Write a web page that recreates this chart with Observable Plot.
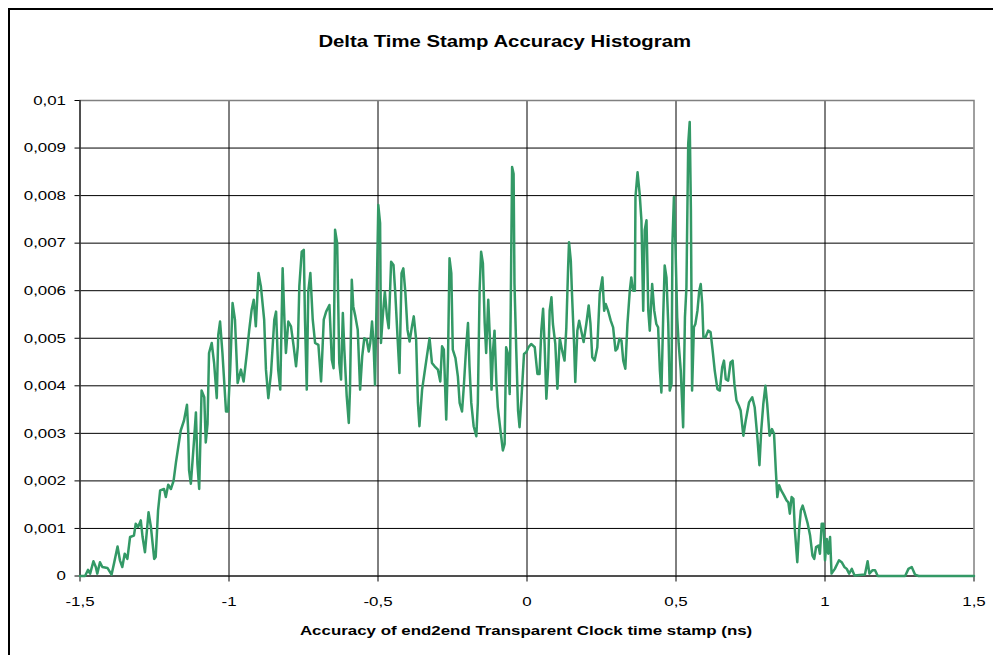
<!DOCTYPE html>
<html>
<head>
<meta charset="utf-8">
<script src="https://cdn.jsdelivr.net/npm/d3@7"></script>
<script src="https://cdn.jsdelivr.net/npm/@observablehq/plot@0.6"></script>
<style>
  body { margin: 0; background: #fff; }
  #wrap { position: relative; width: 993px; height: 655px; overflow: hidden; font-family: "Liberation Sans", Arial, sans-serif; background: #fff; }
  #frame { position: absolute; left: 8px; top: 8px; width: 1000px; height: 700px; border-left: 2px solid #000; border-top: 2px solid #000; }
  #chart { position: absolute; left: 0; top: 0; }
  #title { position: absolute; left: 0; width: 1010px; top: 34px; text-align: center; font-weight: bold; font-size: 16px; line-height: 16px; color: #000; }
  #xlabel { position: absolute; left: 0; width: 1053px; top: 624px; text-align: center; font-weight: bold; font-size: 13.3px; line-height: 14px; color: #000; }
  .stretch { display: inline-block; transform: scaleX(1.27); transform-origin: 50% 50%; white-space: nowrap; }
</style>
</head>
<body>
<div id="wrap">
  <div id="frame"></div>
  <div id="chart"></div>
  <div id="title"><span class="stretch">Delta Time Stamp Accuracy Histogram</span></div>
  <div id="xlabel"><span class="stretch">Accuracy of end2end Transparent Clock time stamp (ns)</span></div>
</div>
<script>
// Accuracy (ns)
const accuracyNs = [
  -1.500,-1.483,-1.473,-1.466,-1.455,-1.447,-1.442,-1.433,-1.425,-1.408,-1.394,-1.386,-1.374,-1.366,-1.358,-1.350,-1.341,-1.332,-1.319,-1.313,
  -1.305,-1.296,-1.290,-1.282,-1.270,-1.262,-1.251,-1.246,-1.238,-1.231,-1.218,-1.212,-1.204,-1.195,-1.186,-1.178,-1.162,-1.151,-1.141,-1.137,
  -1.134,-1.128,-1.117,-1.111,-1.106,-1.100,-1.092,-1.083,-1.078,-1.072,
  -1.067,-1.058,-1.050,-1.041,-1.036,-1.030,-1.022,-1.010,-1.003,-0.996,-0.988,-0.980,-0.971,-0.960,-0.951,-0.940,-0.932,-0.924,-0.917,-0.910,
  -0.901,-0.893,-0.882,-0.876,-0.868,-0.859,-0.848,-0.842,-0.835,-0.828,-0.820,-0.814,-0.809,-0.801,-0.792,-0.783,-0.775,-0.769,-0.764,-0.756,
  -0.749,-0.745,-0.739,-0.734,-0.727,-0.719,-0.711,-0.700,-0.691,-0.682,-0.674,-0.663,-0.655,-0.649,-0.644,-0.637,
  -0.630,-0.624,-0.618,-0.613,-0.605,-0.598,-0.594,-0.588,-0.583,-0.576,-0.568,-0.560,-0.553,-0.546,-0.538,-0.531,-0.526,-0.520,-0.515,-0.510,
  -0.504,-0.499,-0.493,-0.490,-0.484,-0.477,-0.470,-0.464,-0.456,-0.448,-0.442,-0.434,-0.428,-0.421,-0.415,-0.408,-0.401,-0.394,-0.386,-0.380,
  -0.372,-0.366,-0.361,-0.352,-0.344,-0.336,-0.327,-0.319,-0.310,-0.299,-0.291,-0.285,-0.279,-0.271,-0.265,-0.260,-0.254,-0.249,-0.240,-0.232,
  -0.226,-0.218,-0.212,-0.204,-0.198,-0.193,-0.187,-0.179,-0.170,-0.165,-0.159,-0.154,-0.148,-0.142,-0.137,-0.130,-0.123,-0.119,
  -0.114,-0.109,-0.103,-0.098,-0.089,-0.081,-0.075,-0.070,-0.064,-0.058,-0.055,-0.050,-0.045,-0.042,-0.036,-0.030,-0.025,-0.019,-0.010,-0.002,
  0.005,0.014,0.026,0.035,0.042,0.048,0.054,0.059,0.065,0.071,0.076,0.082,0.087,0.095,0.102,0.110,0.118,0.126,0.132,0.138,
  0.141,0.147,0.151,0.158,0.162,0.169,0.175,0.182,0.190,0.199,0.207,0.213,0.219,0.227,0.236,0.244,0.253,0.259,0.264,0.272,
  0.281,0.289,0.297,0.303,0.310,0.317,0.323,0.330,0.337,0.345,0.350,0.356,0.362,
  0.364,0.371,0.378,0.384,0.390,0.395,0.401,0.407,0.412,0.420,0.427,0.434,0.440,0.446,0.451,0.457,0.462,0.468,0.474,0.479,
  0.485,0.488,0.493,0.498,0.504,0.509,0.516,0.524,0.530,0.535,0.541,0.546,0.550,0.554,0.560,0.565,0.572,0.578,0.583,0.588,
  0.592,0.599,0.608,0.616,0.623,0.630,0.639,0.647,0.655,0.661,0.667,0.675,0.683,0.690,0.696,0.703,0.711,
  0.717,0.726,0.734,0.745,0.756,0.764,0.773,0.780,0.786,0.793,0.800,0.806,0.814,0.822,0.829,0.835,0.840,0.846,0.853,0.862,
  0.871,0.877,0.882,0.888,0.894,0.899,0.907,0.913,0.919,0.925,0.933,0.942,0.950,0.958,0.964,0.970,0.978,0.983,0.989,0.995,
  1.000,1.006,1.011,1.017,1.022,1.033,1.047,1.056,1.065,1.073,1.081,1.090,1.099,1.134,1.143,1.149,1.159,1.168,1.177,1.269,
  1.280,1.291,1.302,1.314,1.500
];

// Relative frequency, in thousandths (x 0,001)
const frequencyPermille = [
  0,0,0.13,0.05,0.31,0.19,0.05,0.29,0.19,0.17,0.03,0.26,0.62,0.33,0.19,0.47,0.36,0.82,0.85,1.10,
  1.03,1.17,0.82,0.50,1.34,1.03,0.36,0.40,1.38,1.80,1.83,1.66,1.92,1.83,2.00,2.39,3.06,3.27,3.60,3.06,
  2.22,1.94,2.88,3.44,2.36,1.83,3.90,3.76,2.81,3.20,
  4.69,4.90,4.48,3.74,5.07,5.35,4.69,3.46,3.46,4.34,5.74,5.39,4.06,4.34,4.09,4.69,5.18,5.60,5.81,5.25,
  6.37,6.09,5.39,4.34,3.74,4.27,5.39,5.56,4.34,3.92,6.47,5.39,4.69,5.35,5.25,4.83,4.41,4.83,6.09,6.82,
  6.86,5.39,3.92,5.98,6.37,5.39,4.90,4.86,4.09,5.39,5.56,5.70,4.55,4.37,7.28,7.00,
  4.48,4.13,5.53,4.76,3.78,3.22,3.92,6.23,5.67,5.46,5.18,3.92,4.62,5.00,4.97,4.72,4.90,5.35,4.90,4.02,
  6.02,7.80,7.42,4.90,5.46,5.98,5.46,5.21,6.61,6.54,5.95,4.97,4.27,6.37,6.47,5.95,5.18,4.93,5.25,5.46,
  4.97,3.64,3.15,3.92,4.27,4.62,5.00,4.48,4.41,4.34,4.09,4.83,4.76,3.29,4.62,6.68,6.37,4.76,4.58,4.20,
  3.64,3.46,3.99,4.83,5.32,4.41,3.64,3.15,2.94,3.64,6.02,6.82,6.58,5.32,4.69,5.81,4.76,3.92,
  4.74,5.16,4.11,3.55,3.06,2.64,2.78,4.81,4.67,3.83,5.44,8.60,8.46,6.14,4.74,3.48,3.13,3.69,4.67,4.71,
  4.81,4.88,4.81,4.25,4.25,5.16,5.62,4.88,3.73,4.39,5.58,5.86,5.30,4.88,3.94,5.00,4.74,4.53,5.23,6.49,
  7.02,6.63,5.93,4.88,4.08,5.16,5.37,5.16,4.92,5.30,5.69,5.30,4.60,4.53,4.81,5.93,6.28,5.58,5.72,5.58,
  5.37,5.23,4.74,4.78,4.99,4.95,4.53,4.36,5.30,6.00,6.28,6.00,6.00,
  7.97,8.49,8.04,7.48,5.58,7.27,7.48,5.58,5.16,6.14,5.58,5.30,5.23,4.32,3.86,5.44,6.53,6.28,5.30,3.90,
  4.04,6.99,7.97,6.99,5.44,4.88,4.32,3.13,5.44,6.07,9.09,9.55,7.69,3.90,5.23,5.30,5.58,6.00,6.14,5.72,
  5.02,5.02,5.16,5.13,4.74,4.32,3.93,3.90,4.39,4.53,4.14,4.11,4.49,4.53,4.04,3.69,3.58,
  3.48,2.95,3.27,3.65,3.76,3.55,2.92,2.33,3.06,3.62,4.00,3.62,2.95,3.09,2.99,2.22,1.66,1.91,1.80,1.70,
  1.59,1.55,1.31,1.66,1.62,0.96,0.29,0.96,1.38,1.48,1.31,1.10,0.85,0.43,0.36,0.61,0.64,0.47,1.10,1.10,
  0.33,0.78,0.47,0.82,0.05,0.15,0.33,0.29,0.19,0.15,0.05,0.15,0.01,0.03,0.31,0.05,0.12,0.12,0,0,
  0.15,0.19,0.03,0,0
];

const xTicks = [-1.5, -1, -0.5, 0, 0.5, 1, 1.5];
const yTicks = [0, 0.001, 0.002, 0.003, 0.004, 0.005, 0.006, 0.007, 0.008, 0.009, 0.01];
const xGridLines = [-1, -0.5, 0, 0.5, 1];
const yGridLines = [0.001, 0.002, 0.003, 0.004, 0.005, 0.006, 0.007, 0.008, 0.009];

const rows = accuracyNs.map((x, i) => ({ x, y: frequencyPermille[i] / 1000 }));

const fmt = d => (d === 0 ? "0" : String(+d.toFixed(4)).replace(".", ","));

const chart = Plot.plot({
  width: 993,
  height: 655,
  marginLeft: 79.5,
  marginRight: 19.5,
  marginTop: 100,
  marginBottom: 79.5,
  style: { fontFamily: "'Liberation Sans', Arial, sans-serif", fontSize: "13.3px", background: "transparent", color: "#000", overflow: "visible" },
  x: { domain: [-1.5, 1.5] },
  y: { domain: [0, 0.01] },
  marks: [
    Plot.gridX(xGridLines, { stroke: "#000", strokeOpacity: 1, strokeWidth: 1 }),
    Plot.gridY(yGridLines, { stroke: "#000", strokeOpacity: 1, strokeWidth: 1 }),
    Plot.frame({ stroke: "#808080", strokeWidth: 1.5 }),
    Plot.ruleY([0], { stroke: "#000", strokeWidth: 1.2 }),
    Plot.ruleX([-1.5], { stroke: "#000", strokeWidth: 1 }),
    Plot.axisX(xTicks, { tickSize: 6, tickPadding: 15, tickFormat: fmt, label: null, fontSize: 13.3 }),
    Plot.axisY(yTicks, { tickSize: 5, tickPadding: 9, tickFormat: fmt, label: null, fontSize: 13.3 }),
    Plot.line(rows, { x: "x", y: "y", stroke: "#339966", strokeWidth: 2.5, curve: "linear" })
  ]
});

document.getElementById("chart").appendChild(chart);

// Widen tick labels horizontally like the reference rendering (glyph stretch, position untouched)
chart.querySelectorAll('g[aria-label$="tick label"] text').forEach(t => {
  const L = t.getComputedTextLength();
  if (L > 0) {
    t.setAttribute("textLength", (L * 1.27).toFixed(2));
    t.setAttribute("lengthAdjust", "spacingAndGlyphs");
  }
});
</script>
</body>
</html>
